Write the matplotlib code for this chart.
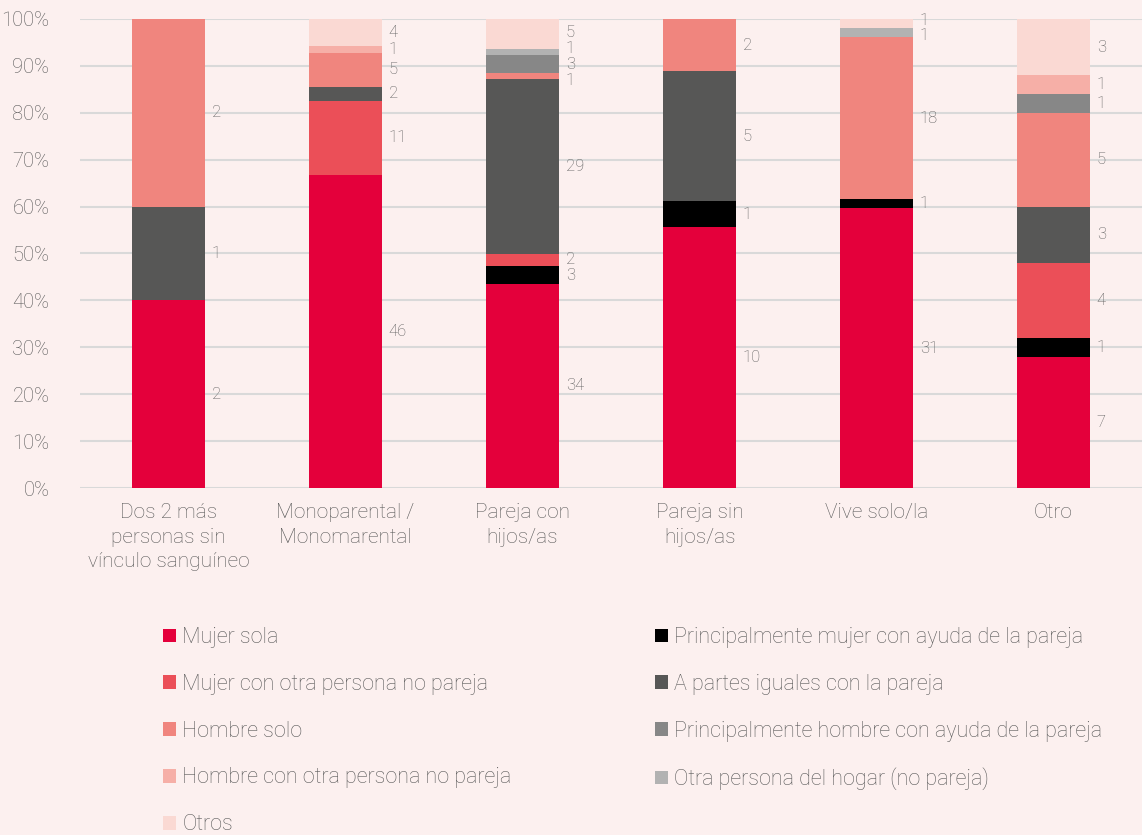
import matplotlib
matplotlib.use("Agg")
import matplotlib.pyplot as plt
from matplotlib.patches import Patch
import numpy as np

plt.rcParams['font.family'] = ['Roboto', 'DejaVu Sans']

categories = ["Dos 2 más\npersonas sin\nvínculo sanguíneo", "Monoparental /\nMonomarental",
              "Pareja con\nhijos/as", "Pareja sin\nhijos/as", "Vive solo/la", "Otro"]

series_names = ["Mujer sola", "Principalmente mujer con ayuda de la pareja",
                "Mujer con otra persona no pareja", "A partes iguales con la pareja",
                "Hombre solo", "Principalmente hombre con ayuda de la pareja",
                "Hombre con otra persona no pareja", "Otra persona del hogar (no pareja)",
                "Otros"]

mujer_sola = [2, 46, 34, 10, 31, 7]
princ_mujer = [0, 0, 3, 1, 1, 1]
mujer_otra = [0, 11, 2, 0, 0, 4]
partes_iguales = [1, 2, 29, 5, 0, 3]
hombre_solo = [2, 5, 1, 2, 18, 5]
princ_hombre = [0, 0, 3, 0, 0, 1]
hombre_otra = [0, 1, 0, 0, 0, 1]
otra_persona = [0, 0, 1, 0, 1, 0]
otros = [0, 4, 5, 0, 1, 3]

colors = ["#E4003B", "#000000", "#EB4F58", "#575756", "#F0857E",
          "#878787", "#F6AFA7", "#B2B2B2", "#FAD9D3"]

series = [mujer_sola, princ_mujer, mujer_otra, partes_iguales, hombre_solo,
          princ_hombre, hombre_otra, otra_persona, otros]

bg = "#FCF0EF"
W, H = 1142, 835
fig = plt.figure(figsize=(W / 100, H / 100), dpi=100, facecolor=bg)
ax = fig.add_axes([80 / W, 1 - 488 / H, (1142 - 80) / W, (488 - 19) / H], facecolor=bg)

data = np.array(series, dtype=float)
totals = data.sum(axis=0)
pct = data / totals * 100
x = np.arange(len(categories))
bw = 0.41
bottom = np.zeros(len(categories))
handles = []
labels_per_bar = {j: [] for j in range(len(categories))}
for i, name in enumerate(series_names):
    ax.bar(x, pct[i], bw, bottom=bottom, color=colors[i], zorder=3, linewidth=0)
    for j in range(len(categories)):
        if data[i, j] > 0:
            labels_per_bar[j].append([bottom[j] + pct[i, j] / 2, int(data[i, j])])
    bottom += pct[i]
    handles.append(Patch(facecolor=colors[i], edgecolor="none", label=name))

# spread value labels that would overlap
min_gap = 3.4
for j, labs in labels_per_bar.items():
    labs.sort(key=lambda t: t[0])
    for _ in range(50):
        for k in range(len(labs) - 1):
            d = labs[k + 1][0] - labs[k][0]
            if d < min_gap:
                s = (min_gap - d) / 2
                labs[k][0] -= s
                labs[k + 1][0] += s
    for yv, val in labs:
        ax.text(x[j] + bw / 2 + 0.04, yv, f"{val}", ha="left", va="center",
                fontsize=12, color="#5E5E5E", fontweight="light")

ax.set_xlim(-0.5, len(categories) - 0.5)
ax.set_ylim(0, 100)
ax.set_yticks(np.arange(0, 101, 10))
ax.set_yticklabels([f"{v}%" for v in range(0, 101, 10)])
ax.yaxis.grid(True, color="#D9D9D9", linewidth=1.5, zorder=0)
ax.set_axisbelow(True)
for s in ax.spines.values():
    s.set_visible(False)
ax.tick_params(axis="both", length=0, labelcolor="#595959")
ax.tick_params(axis="y", pad=22, labelsize=14.5)
ax.tick_params(axis="x", pad=11, labelsize=15)
ax.set_xticks(x)
ax.set_xticklabels(categories, linespacing=1.36)
for lbl in ax.get_xticklabels() + ax.get_yticklabels():
    lbl.set_fontweight("light")

order_left = [0, 2, 4, 6, 8]
order_right = [1, 3, 5, 7]
common = dict(frameon=False, fontsize=15.5, handlelength=0.6, handleheight=0.6,
              handletextpad=0.3, labelspacing=1.2, borderpad=0, borderaxespad=0,
              labelcolor="#595959", loc="upper left")
leg1 = fig.legend([handles[i] for i in order_left], [series_names[i] for i in order_left],
                  bbox_to_anchor=(163 / W, 1 - 627 / H), **common)
leg2 = fig.legend([handles[i] for i in order_right], [series_names[i] for i in order_right],
                  bbox_to_anchor=(655 / W, 1 - 627 / H), **common)
for leg in (leg1, leg2):
    for t in leg.get_texts():
        t.set_fontweight("light")

fig.savefig("out.png", dpi=100, facecolor=bg)
